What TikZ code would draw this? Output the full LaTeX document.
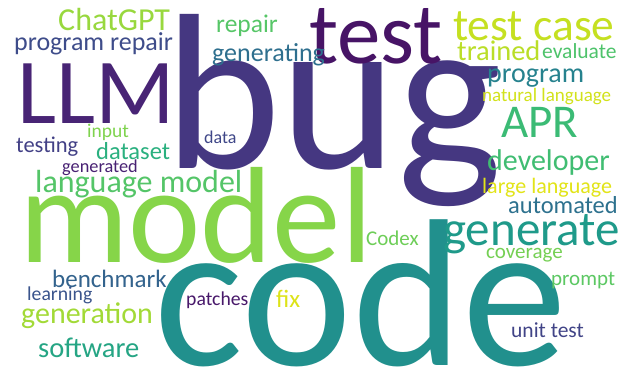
\documentclass[tikz,border=0pt]{standalone}
\usepackage{fontspec}
\setmainfont{Carlito}
\usetikzlibrary{positioning}

\newcommand{\wsize}[1]{\fontsize{#1}{#1}\selectfont}

\begin{document}
\begin{tikzpicture}[
    x=1pt, y=-1pt,
    word/.style={inner sep=0pt, anchor=base west}
]
    \useasboundingbox[fill=white] (0,0) rectangle (623,368);

    % Big words
    \node[word, font=\wsize{222}, text={rgb,255:red,69;green,55;blue,129}] (bug) at (164,168) {bug};
    \node[word, font=\wsize{210}, text={rgb,255:red,33;green,144;blue,141}] (code) at (154,365) {code};
    \node[word, font=\wsize{137}, text={rgb,255:red,134;green,213;blue,73}] (model) at (19,262) {model};
    \node[word, font=\wsize{93}, text={rgb,255:red,72;green,36;blue,117}] (llm) at (17,123) {LLM};
    \node[word, font=\wsize{87}, text={rgb,255:red,71;green,20;blue,102}] (test) at (309,63) {test};

    % Medium words
    \node[word, font=\wsize{49}, text={rgb,255:red,31;green,154;blue,138}] (generate) at (443,245) {generate};
    \node[word, font=\wsize{45.5}, text={rgb,255:red,197;green,224;blue,33}] (testcase) at (453,40) {test case};
    \node[word, font=\wsize{47}, text={rgb,255:red,59;green,187;blue,117}] (apr) at (501,137) {APR};
    \node[word, font=\wsize{32}, text={rgb,255:red,84;green,197;blue,104}] (langmodel) at (35,192) {language model};
    \node[word, font=\wsize{30}, text={rgb,255:red,64;green,189;blue,114}] (developer) at (487,170) {developer};
    \node[word, font=\wsize{32}, text={rgb,255:red,152;green,216;blue,62}] (chatgpt) at (58,30) {ChatGPT};
    \node[word, font=\wsize{30}, text={rgb,255:red,162;green,218;blue,55}] (generation) at (21,323) {generation};
    \node[word, font=\wsize{28.5}, text={rgb,255:red,37;green,165;blue,132}] (software) at (38,357) {software};
    \node[word, font=\wsize{28.5}, text={rgb,255:red,186;green,222;blue,40}] (trained) at (457,60) {trained};
    \node[word, font=\wsize{28}, text={rgb,255:red,38;green,130;blue,142}] (program) at (487,82) {program};
    \node[word, font=\wsize{26}, text={rgb,255:red,62;green,76;blue,138}] (progrepair) at (14,50) {program repair};

    % Small words
    \node[word, font=\wsize{25.5}, text={rgb,255:red,86;green,198;blue,103}] (repair) at (216,32) {repair};
    \node[word, font=\wsize{26}, text={rgb,255:red,46;green,111;blue,142}] (generating) at (212,61) {generating};
    \node[word, font=\wsize{25}, text={rgb,255:red,51;green,99;blue,141}] (benchmark) at (52,287) {benchmark};
    \node[word, font=\wsize{24.5}, text={rgb,255:red,45;green,113;blue,142}] (automated) at (508,213) {automated};
    \node[word, font=\wsize{24.5}, text={rgb,255:red,42;green,176;blue,127}] (dataset) at (96,159) {dataset};
    \node[word, font=\wsize{25}, text={rgb,255:red,221;green,227;blue,24}] (fix) at (276,307) {fix};
    \node[word, font=\wsize{22}, text={rgb,255:red,226;green,228;blue,24}] (largelang) at (482,193) {large language};
    \node[word, font=\wsize{22.5}, text={rgb,255:red,66;green,64;blue,134}] (testing) at (16,152) {testing};
    \node[word, font=\wsize{21.5}, text={rgb,255:red,65;green,68;blue,135}] (unittest) at (511,337) {unit test};
    \node[word, font=\wsize{21.5}, text={rgb,255:red,78;green,195;blue,107}] (evaluate) at (542,58) {evaluate};
    \node[word, font=\wsize{21}, text={rgb,255:red,117;green,208;blue,84}] (coverage) at (486,258) {coverage};
    \node[word, font=\wsize{21}, text={rgb,255:red,110;green,206;blue,88}] (codex) at (366,245) {Codex};
    \node[word, font=\wsize{21}, text={rgb,255:red,92;green,200;blue,99}] (prompt) at (551,285) {prompt};
    \node[word, font=\wsize{19.5}, text={rgb,255:red,127;green,211;blue,78}] (input) at (87,137) {input};
    \node[word, font=\wsize{19.7}, text={rgb,255:red,58;green,84;blue,140}] (learning) at (27,300) {learning};
    \node[word, font=\wsize{19.7}, text={rgb,255:red,72;green,24;blue,106}] (patches) at (186,305) {patches};
    \node[word, font=\wsize{19}, text={rgb,255:red,210;green,226;blue,27}] (natlang) at (482,101) {natural language};
    \node[word, font=\wsize{18.3}, text={rgb,255:red,72;green,33;blue,115}] (generated) at (62,172) {generated};
    \node[word, font=\wsize{18}, text={rgb,255:red,63;green,71;blue,136}] (data) at (204,143) {data};
\end{tikzpicture}
\end{document}
